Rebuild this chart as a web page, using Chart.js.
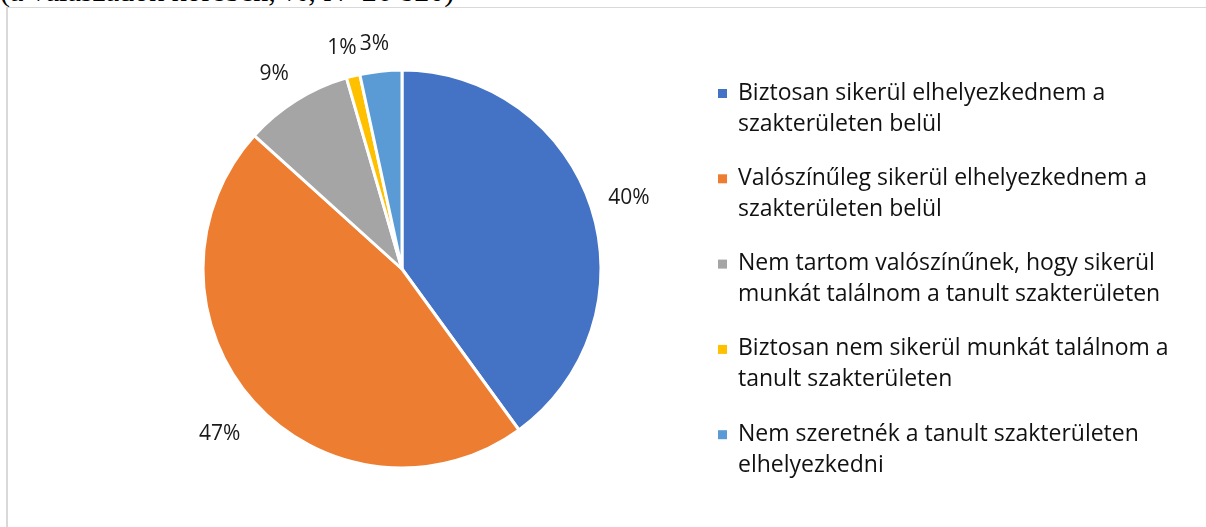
<!DOCTYPE html>
<html>
<head>
<meta charset="utf-8">
<script src="https://cdn.jsdelivr.net/npm/chart.js@4"></script>
<style>
    html, body { margin: 0; padding: 0; background: #fff; }
    body { width: 1206px; height: 527px; position: relative; overflow: hidden; }
    .caption {
        position: absolute; left: 0; top: -24px;
        font-family: "Liberation Serif", "Times New Roman", serif;
        font-size: 30px; color: #000; white-space: nowrap; line-height: 30px;
    }
    .frame {
        position: absolute; left: 6px; top: 7px; width: 1200px; height: 530px;
        border-left: 2px solid #d9d9d9; border-top: 1px solid #d9d9d9;
        box-sizing: border-box;
    }
    #wrap { position: absolute; left: 0; top: 0; width: 1206px; height: 527px; }
</style>
</head>
<body>
<div class="caption">(a válaszadók körében, %, N=26 820)</div>
<div class="frame"></div>
<div id="wrap"><canvas id="pieChart" width="1206" height="527"></canvas></div>
<script>
const categories = [
    ["Biztosan sikerül elhelyezkednem a", "szakterületen belül"],
    ["Valószínűleg sikerül elhelyezkednem a", "szakterületen belül"],
    ["Nem tartom valószínűnek, hogy sikerül", "munkát találnom a tanult szakterületen"],
    ["Biztosan nem sikerül munkát találnom a", "tanult szakterületen"],
    ["Nem szeretnék a tanult szakterületen", "elhelyezkedni"]
];
const shares = [40.0, 46.7, 8.8, 1.1, 3.4];
const sliceColors = ["#4472C4", "#ED7D31", "#A5A5A5", "#FFC000", "#5B9BD5"];

const FONT = "'Open Sans', Lato, sans-serif";

// percent labels just outside each slice
const outsideLabels = {
    id: "outsideLabels",
    afterDatasetsDraw(chart) {
        const ctx = chart.ctx;
        const meta = chart.getDatasetMeta(0);
        const total = shares.reduce((a, b) => a + b, 0);
        ctx.save();
        ctx.font = "21px " + FONT;
        ctx.fillStyle = "#1a1a1a";
        ctx.textAlign = "center";
        ctx.textBaseline = "middle";
        meta.data.forEach((arc, i) => {
            const mid = (arc.startAngle + arc.endAngle) / 2;
            const ux = Math.cos(mid), uy = Math.sin(mid);
            const text = Math.round(shares[i] / total * 100) + "%";
            const w = ctx.measureText(text).width;
            const h = 20;
            const r = arc.outerRadius + 20 + Math.abs(ux) * w / 2 + Math.abs(uy) * h / 2;
            ctx.fillText(text, arc.x + ux * r - 3, arc.y + uy * r + 4);
        });
        ctx.restore();
    }
};

// legend on the right, wrapped labels
const sideLegend = {
    id: "sideLegend",
    afterDraw(chart) {
        const ctx = chart.ctx;
        const labels = chart.data.labels;
        const colors = chart.data.datasets[0].backgroundColor;
        ctx.save();
        ctx.font = "23px " + FONT;
        ctx.textAlign = "left";
        ctx.textBaseline = "middle";
        labels.forEach((lines, i) => {
            const y0 = 93 + i * 85.3;
            ctx.fillStyle = colors[i];
            ctx.fillRect(718, y0 - 4, 9, 9);
            ctx.fillStyle = "#111";
            lines.forEach((ln, j) => ctx.fillText(ln, 738, y0 + j * 31));
        });
        ctx.restore();
    }
};

new Chart(document.getElementById("pieChart"), {
    type: "pie",
    data: {
        labels: categories,
        datasets: [{
            data: shares,
            backgroundColor: sliceColors,
            borderColor: "#ffffff",
            borderWidth: 3,
            hoverOffset: 0,
            radius: 199
        }]
    },
    options: {
        responsive: false,
        animation: false,
        events: [],
        layout: { padding: { left: 203, right: 605, top: 69, bottom: 58 } },
        plugins: {
            legend: { display: false },
            tooltip: { enabled: false }
        }
    },
    plugins: [outsideLabels, sideLegend]
});
</script>
</body>
</html>
